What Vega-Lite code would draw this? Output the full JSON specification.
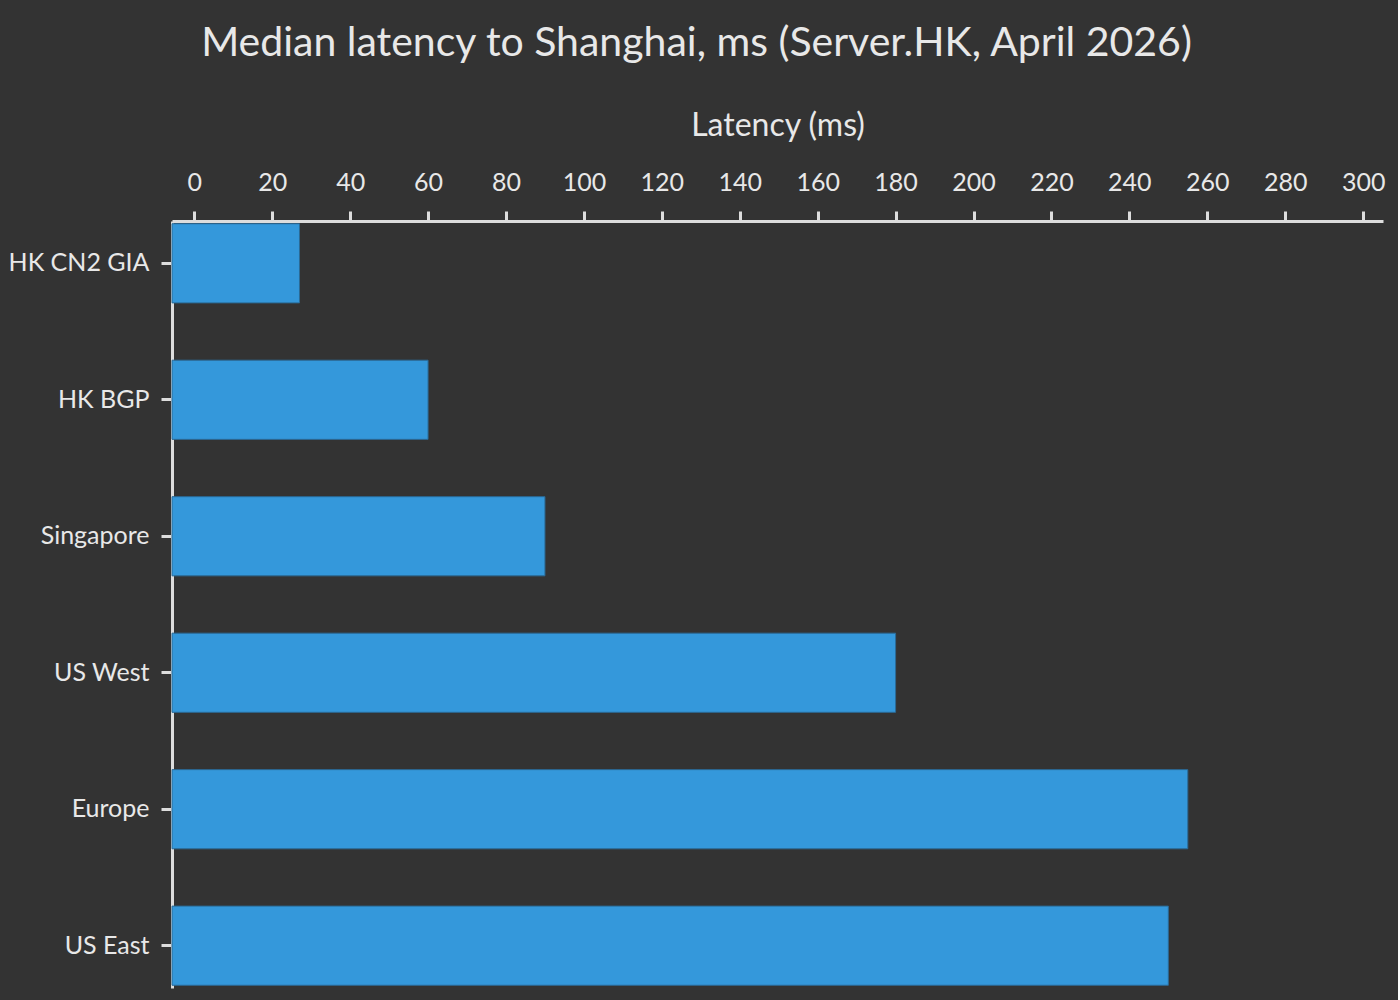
{
  "$schema": "https://vega.github.io/schema/vega-lite/v6.json",
  "width": 1211,
  "height": 767,
  "padding": {"left": 8, "top": 22, "right": 13, "bottom": 12},
  "background": "#333333",
  "title": {
    "text": "Median latency to Shanghai, ms (Server.HK, April 2026)",
    "font": "Lato",
    "fontSize": 41,
    "fontWeight": "normal",
    "color": "#e8e8e8",
    "anchor": "middle",
    "frame": "bounds",
    "offset": 45
  },
  "config": {
    "view": {"stroke": null},
    "font": "Lato"
  },
  "data": {
    "values": [
      {"route": "HK CN2 GIA", "latency": 27},
      {"route": "HK BGP", "latency": 60},
      {"route": "Singapore", "latency": 90},
      {"route": "US West", "latency": 180},
      {"route": "Europe", "latency": 255},
      {"route": "US East", "latency": 250}
    ]
  },
  "mark": {"type": "bar", "color": "#3498db", "stroke": "#2b6a96", "strokeWidth": 1},
  "encoding": {
    "y": {
      "field": "route",
      "type": "nominal",
      "sort": null,
      "scale": {"paddingInner": 0.42, "paddingOuter": 0.02},
      "axis": {
        "title": null,
        "labelFont": "Lato",
        "labelFontSize": 25,
        "labelColor": "#e8e8e8",
        "labelPadding": 12,
        "tickSize": 11,
        "tickWidth": 3,
        "tickColor": "#dddddd",
        "domainColor": "#dddddd",
        "domainWidth": 3
      }
    },
    "x": {
      "field": "latency",
      "type": "quantitative",
      "scale": {"domain": [-5.72, 305.1], "nice": false, "zero": false},
      "axis": {
        "orient": "top",
        "title": "Latency (ms)",
        "titleFont": "Lato",
        "titleFontSize": 32,
        "titleFontWeight": "normal",
        "titleColor": "#e8e8e8",
        "titlePadding": 28,
        "values": [0, 20, 40, 60, 80, 100, 120, 140, 160, 180, 200, 220, 240, 260, 280, 300],
        "labelFont": "Lato",
        "labelFontSize": 25,
        "labelColor": "#e8e8e8",
        "labelPadding": 15.5,
        "labelFlush": false,
        "labelOverlap": false,
        "tickSize": 10,
        "tickWidth": 3,
        "tickColor": "#dddddd",
        "domainColor": "#dddddd",
        "domainWidth": 3,
        "grid": false
      }
    },
    "x2": {"datum": -5.72}
  }
}
